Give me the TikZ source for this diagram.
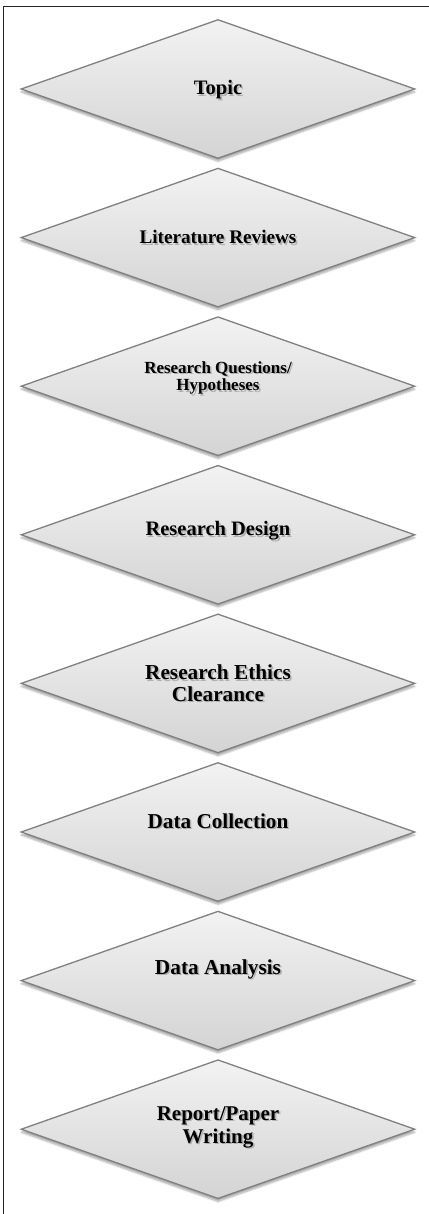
\documentclass[tikz,border=0pt]{standalone}
\usepackage{fontspec}
\setmainfont{Liberation Serif}
\usetikzlibrary{shapes.geometric,shadows.blur}
\newcommand\mystage[6]{%
  \node[stage] (#1) at (218,#2) {};
  \node[lblsh, font=\bfseries\fontsize{#4}{#5}\selectfont] (#1s) at (219.6,#3+1.6) {#6};
  \node[lbl, font=\bfseries\fontsize{#4}{#5}\selectfont] (#1t) at (218,#3) {#6};
}
\begin{document}
\begin{tikzpicture}[x=1pt,y=-1pt,
  stage/.style={diamond, draw=black!50, line width=1.3pt,
    minimum width=394pt, minimum height=139pt, inner sep=0pt, aspect=2.83,
    top color=black!5, bottom color=black!17,
    blur shadow={shadow xshift=0pt, shadow yshift=-3pt, shadow blur steps=6, shadow opacity=35}},
  lbl/.style={align=center, text=black, inner sep=0pt},
  lblsh/.style={align=center, text=black!55, opacity=0.45, inner sep=0pt}]
\useasboundingbox (0,0) rectangle (428,1214);
\draw[line width=1.5pt, black!85] (3.5,1230) -- (3.5,6.5) -- (440,6.5);
\mystage{s1}{89}{90}{20.5}{21.5}{Topic}
\mystage{s2}{237.6}{237}{19.2}{20}{Literature Reviews}
\mystage{s3}{386.2}{378}{17}{17.5}{Research Questions/\\Hypotheses}
\mystage{s4}{534.8}{531}{20.5}{21.5}{Research Design}
\mystage{s5}{683.4}{683}{21.3}{21.5}{Research Ethics\\Clearance}
\mystage{s6}{832}{821}{21.2}{22}{Data Collection}
\mystage{s7}{980.6}{969}{21.3}{22}{Data Analysis}
\mystage{s8}{1129.2}{1127}{21}{23}{Report/Paper\\Writing}
\end{tikzpicture}
\end{document}
